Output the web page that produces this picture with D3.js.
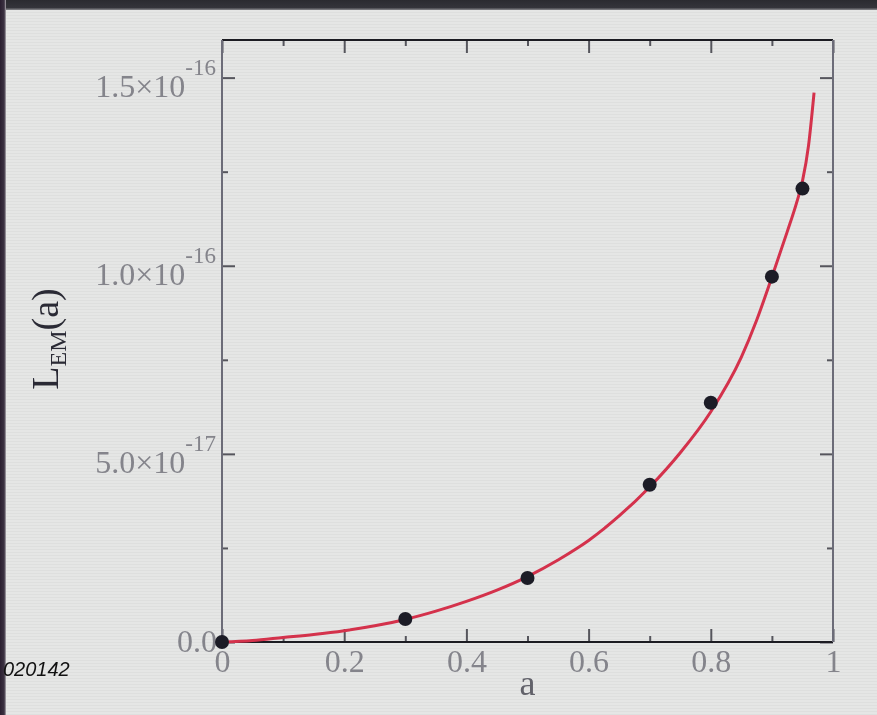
<!DOCTYPE html>
<html>
<head>
<meta charset="utf-8">
<script src="https://cdn.jsdelivr.net/npm/d3@7"></script>
<style>
  html, body { margin: 0; padding: 0; background: #e5e6e5; }
  svg { display: block; }
</style>
</head>
<body>
<svg id="chart" width="877" height="715"></svg>
<script>
// Measured luminosity L_EM versus spin parameter a
const spinA = [0, 0.3, 0.5, 0.7, 0.8, 0.9, 0.95];
const lumEM = [0, 6.1e-18, 1.7e-17, 4.18e-17, 6.36e-17, 9.71e-17, 1.205e-16];

// Fitted curve, sampled along its length
const fitA = [0, 0.05, 0.1, 0.15, 0.2, 0.25, 0.3, 0.35, 0.4, 0.45, 0.5, 0.55, 0.6, 0.65, 0.7,
              0.75, 0.8, 0.85, 0.875, 0.9, 0.925, 0.94, 0.95, 0.96, 0.969];
const fitL = [0, 0.004e-16, 0.012e-16, 0.02e-16, 0.03e-16, 0.043e-16, 0.06e-16, 0.082e-16, 0.108e-16,
              0.138e-16, 0.174e-16, 0.218e-16, 0.27e-16, 0.335e-16, 0.412e-16, 0.503e-16, 0.612e-16,
              0.757e-16, 0.855e-16, 0.97e-16, 1.09e-16, 1.165e-16, 1.225e-16, 1.32e-16, 1.46e-16];

// Axis ticks
const xMajor = [0, 0.2, 0.4, 0.6, 0.8, 1];
const xMinor = [0.1, 0.3, 0.5, 0.7, 0.9];
const xLabels = ["0", "0.2", "0.4", "0.6", "0.8", "1"];
const yMajor = [0, 5e-17, 1e-16, 1.5e-16];
const yMinor = [2.5e-17, 7.5e-17, 1.25e-16];

const svg = d3.select("#chart");
const W = 877, H = 715;
const plotL = 222, plotR = 833, plotT = 40, plotB = 642;

const x = d3.scaleLinear().domain([0, 1]).range([plotL, plotR]);
const y = d3.scaleLinear().domain([0, 1.6e-16]).range([plotB, plotT]);

const defs = svg.append("defs");
const pat = defs.append("pattern").attr("id", "scan").attr("width", 6).attr("height", 3)
  .attr("patternUnits", "userSpaceOnUse");
pat.append("rect").attr("width", 6).attr("height", 1).attr("fill", "rgba(0,0,0,0.03)");
defs.append("filter").attr("id", "soft").attr("x", "-5%").attr("y", "-5%").attr("width", "110%").attr("height", "110%")
  .append("feGaussianBlur").attr("stdDeviation", 0.7);
const gTop = defs.append("linearGradient").attr("id", "topband").attr("x1", 0).attr("y1", 0).attr("x2", 0).attr("y2", 1);
gTop.append("stop").attr("offset", "0%").attr("stop-color", "#2b2b30");
gTop.append("stop").attr("offset", "75%").attr("stop-color", "#34343a");
gTop.append("stop").attr("offset", "100%").attr("stop-color", "#8a8a8e");
const gLeft = defs.append("linearGradient").attr("id", "leftband").attr("x1", 0).attr("y1", 0).attr("x2", 1).attr("y2", 0);
gLeft.append("stop").attr("offset", "0%").attr("stop-color", "#2a1f30");
gLeft.append("stop").attr("offset", "70%").attr("stop-color", "#3c3242");
gLeft.append("stop").attr("offset", "100%").attr("stop-color", "#b0adb3");

// Background
svg.append("rect").attr("width", W).attr("height", H).attr("fill", "#e5e6e5");
svg.append("rect").attr("width", W).attr("height", H).attr("fill", "url(#scan)");
svg.append("rect").attr("x", 0).attr("y", 0).attr("width", W).attr("height", 10).attr("fill", "url(#topband)");
svg.append("rect").attr("x", 0).attr("y", 0).attr("width", 6).attr("height", H).attr("fill", "url(#leftband)");

const g = svg.append("g").attr("filter", "url(#soft)");

const serif = "'Liberation Serif', 'Times New Roman', serif";

// Frame: axes with inward ticks
function styleAxis(sel, color) {
  sel.select(".domain").remove();
  sel.selectAll(".tick line").attr("stroke", color).attr("stroke-width", 2);
}

// Bottom axis
const bottomAxis = g.append("g").attr("transform", `translate(0,${plotB})`)
  .call(d3.axisBottom(x).tickValues(xMajor).tickSize(-13).tickPadding(7)
    .tickFormat((d, i) => xLabels[i]));
styleAxis(bottomAxis, "#55555c");
bottomAxis.selectAll(".tick text")
  .attr("font-family", serif).attr("font-size", 32).attr("fill", "#84848b");
const bottomMinor = g.append("g").attr("transform", `translate(0,${plotB})`)
  .call(d3.axisBottom(x).tickValues(xMinor).tickSize(-6).tickFormat(""));
styleAxis(bottomMinor, "#55555c");

// Top axis
const topAxis = g.append("g").attr("transform", `translate(0,${plotT})`)
  .call(d3.axisTop(x).tickValues(xMajor).tickSize(-13).tickFormat(""));
styleAxis(topAxis, "#55555c");
const topMinor = g.append("g").attr("transform", `translate(0,${plotT})`)
  .call(d3.axisTop(x).tickValues(xMinor).tickSize(-6).tickFormat(""));
styleAxis(topMinor, "#55555c");

// Left axis
const leftAxis = g.append("g").attr("transform", `translate(${plotL},0)`)
  .call(d3.axisLeft(y).tickValues(yMajor).tickSize(-13).tickFormat(""));
styleAxis(leftAxis, "#55555c");
const leftMinor = g.append("g").attr("transform", `translate(${plotL},0)`)
  .call(d3.axisLeft(y).tickValues(yMinor).tickSize(-6).tickFormat(""));
styleAxis(leftMinor, "#55555c");

// Right axis
const rightAxis = g.append("g").attr("transform", `translate(${plotR},0)`)
  .call(d3.axisRight(y).tickValues(yMajor).tickSize(-13).tickFormat(""));
styleAxis(rightAxis, "#55555c");
const rightMinor = g.append("g").attr("transform", `translate(${plotR},0)`)
  .call(d3.axisRight(y).tickValues(yMinor).tickSize(-6).tickFormat(""));
styleAxis(rightMinor, "#55555c");

// Frame lines
g.append("line").attr("x1", plotL).attr("x2", plotR).attr("y1", plotT).attr("y2", plotT)
  .attr("stroke", "#1c1c20").attr("stroke-width", 2);
g.append("line").attr("x1", plotL).attr("x2", plotR).attr("y1", plotB).attr("y2", plotB)
  .attr("stroke", "#1c1c20").attr("stroke-width", 2);
g.append("line").attr("x1", plotL).attr("x2", plotL).attr("y1", plotT).attr("y2", plotB)
  .attr("stroke", "#6c6c78").attr("stroke-width", 2);
g.append("line").attr("x1", plotR).attr("x2", plotR).attr("y1", plotT).attr("y2", plotB)
  .attr("stroke", "#6c6c78").attr("stroke-width", 2);

// Y tick labels in scientific notation
const yLab = g.append("g").attr("font-family", serif).attr("fill", "#84848b");
yMajor.forEach(v => {
  const py = y(v);
  if (v === 0) {
    yLab.append("text").attr("x", 217).attr("y", py + 10)
      .attr("text-anchor", "end").attr("font-size", 32).text("0.0");
    return;
  }
  const e = Math.floor(Math.log10(v) + 1e-9);
  const m = (v / Math.pow(10, e)).toFixed(1);
  const t = yLab.append("text").attr("x", 216).attr("y", py + 19)
    .attr("text-anchor", "end").attr("font-size", 32);
  t.append("tspan").text(m + "\u00d710");
  t.append("tspan").attr("font-size", 23).attr("dy", -22).text(String(e));
});

// Fitted curve
const line = d3.line().x(d => x(d[0])).y(d => y(d[1])).curve(d3.curveMonotoneX);
g.append("path").datum(d3.zip(fitA, fitL)).attr("d", line)
  .attr("fill", "none").attr("stroke", "#d4304c").attr("stroke-width", 3);

// Data points
g.append("g").selectAll("circle").data(d3.zip(spinA, lumEM)).join("circle")
  .attr("cx", d => x(d[0])).attr("cy", d => y(d[1])).attr("r", 7)
  .attr("fill", "#1d1d28");

// Axis titles
g.append("text").attr("x", (plotL + plotR) / 2).attr("y", 695).attr("text-anchor", "middle")
  .attr("font-family", serif).attr("font-size", 36).attr("fill", "#62626a").text("a");

const yt = g.append("text").attr("transform", "translate(58,339) rotate(-90)")
  .attr("text-anchor", "middle").attr("font-family", serif).attr("font-size", 38).attr("fill", "#2c2c36");
yt.append("tspan").text("L");
yt.append("tspan").attr("font-size", 24).attr("dy", 8).text("EM");
yt.append("tspan").attr("dy", -8).text("(a)");

// Corner reference number
svg.append("text").attr("x", 3).attr("y", 676)
  .attr("font-family", "'Liberation Sans', Arial, sans-serif").attr("font-style", "italic")
  .attr("font-size", 20).attr("fill", "#111").text("020142");
</script>
</body>
</html>
